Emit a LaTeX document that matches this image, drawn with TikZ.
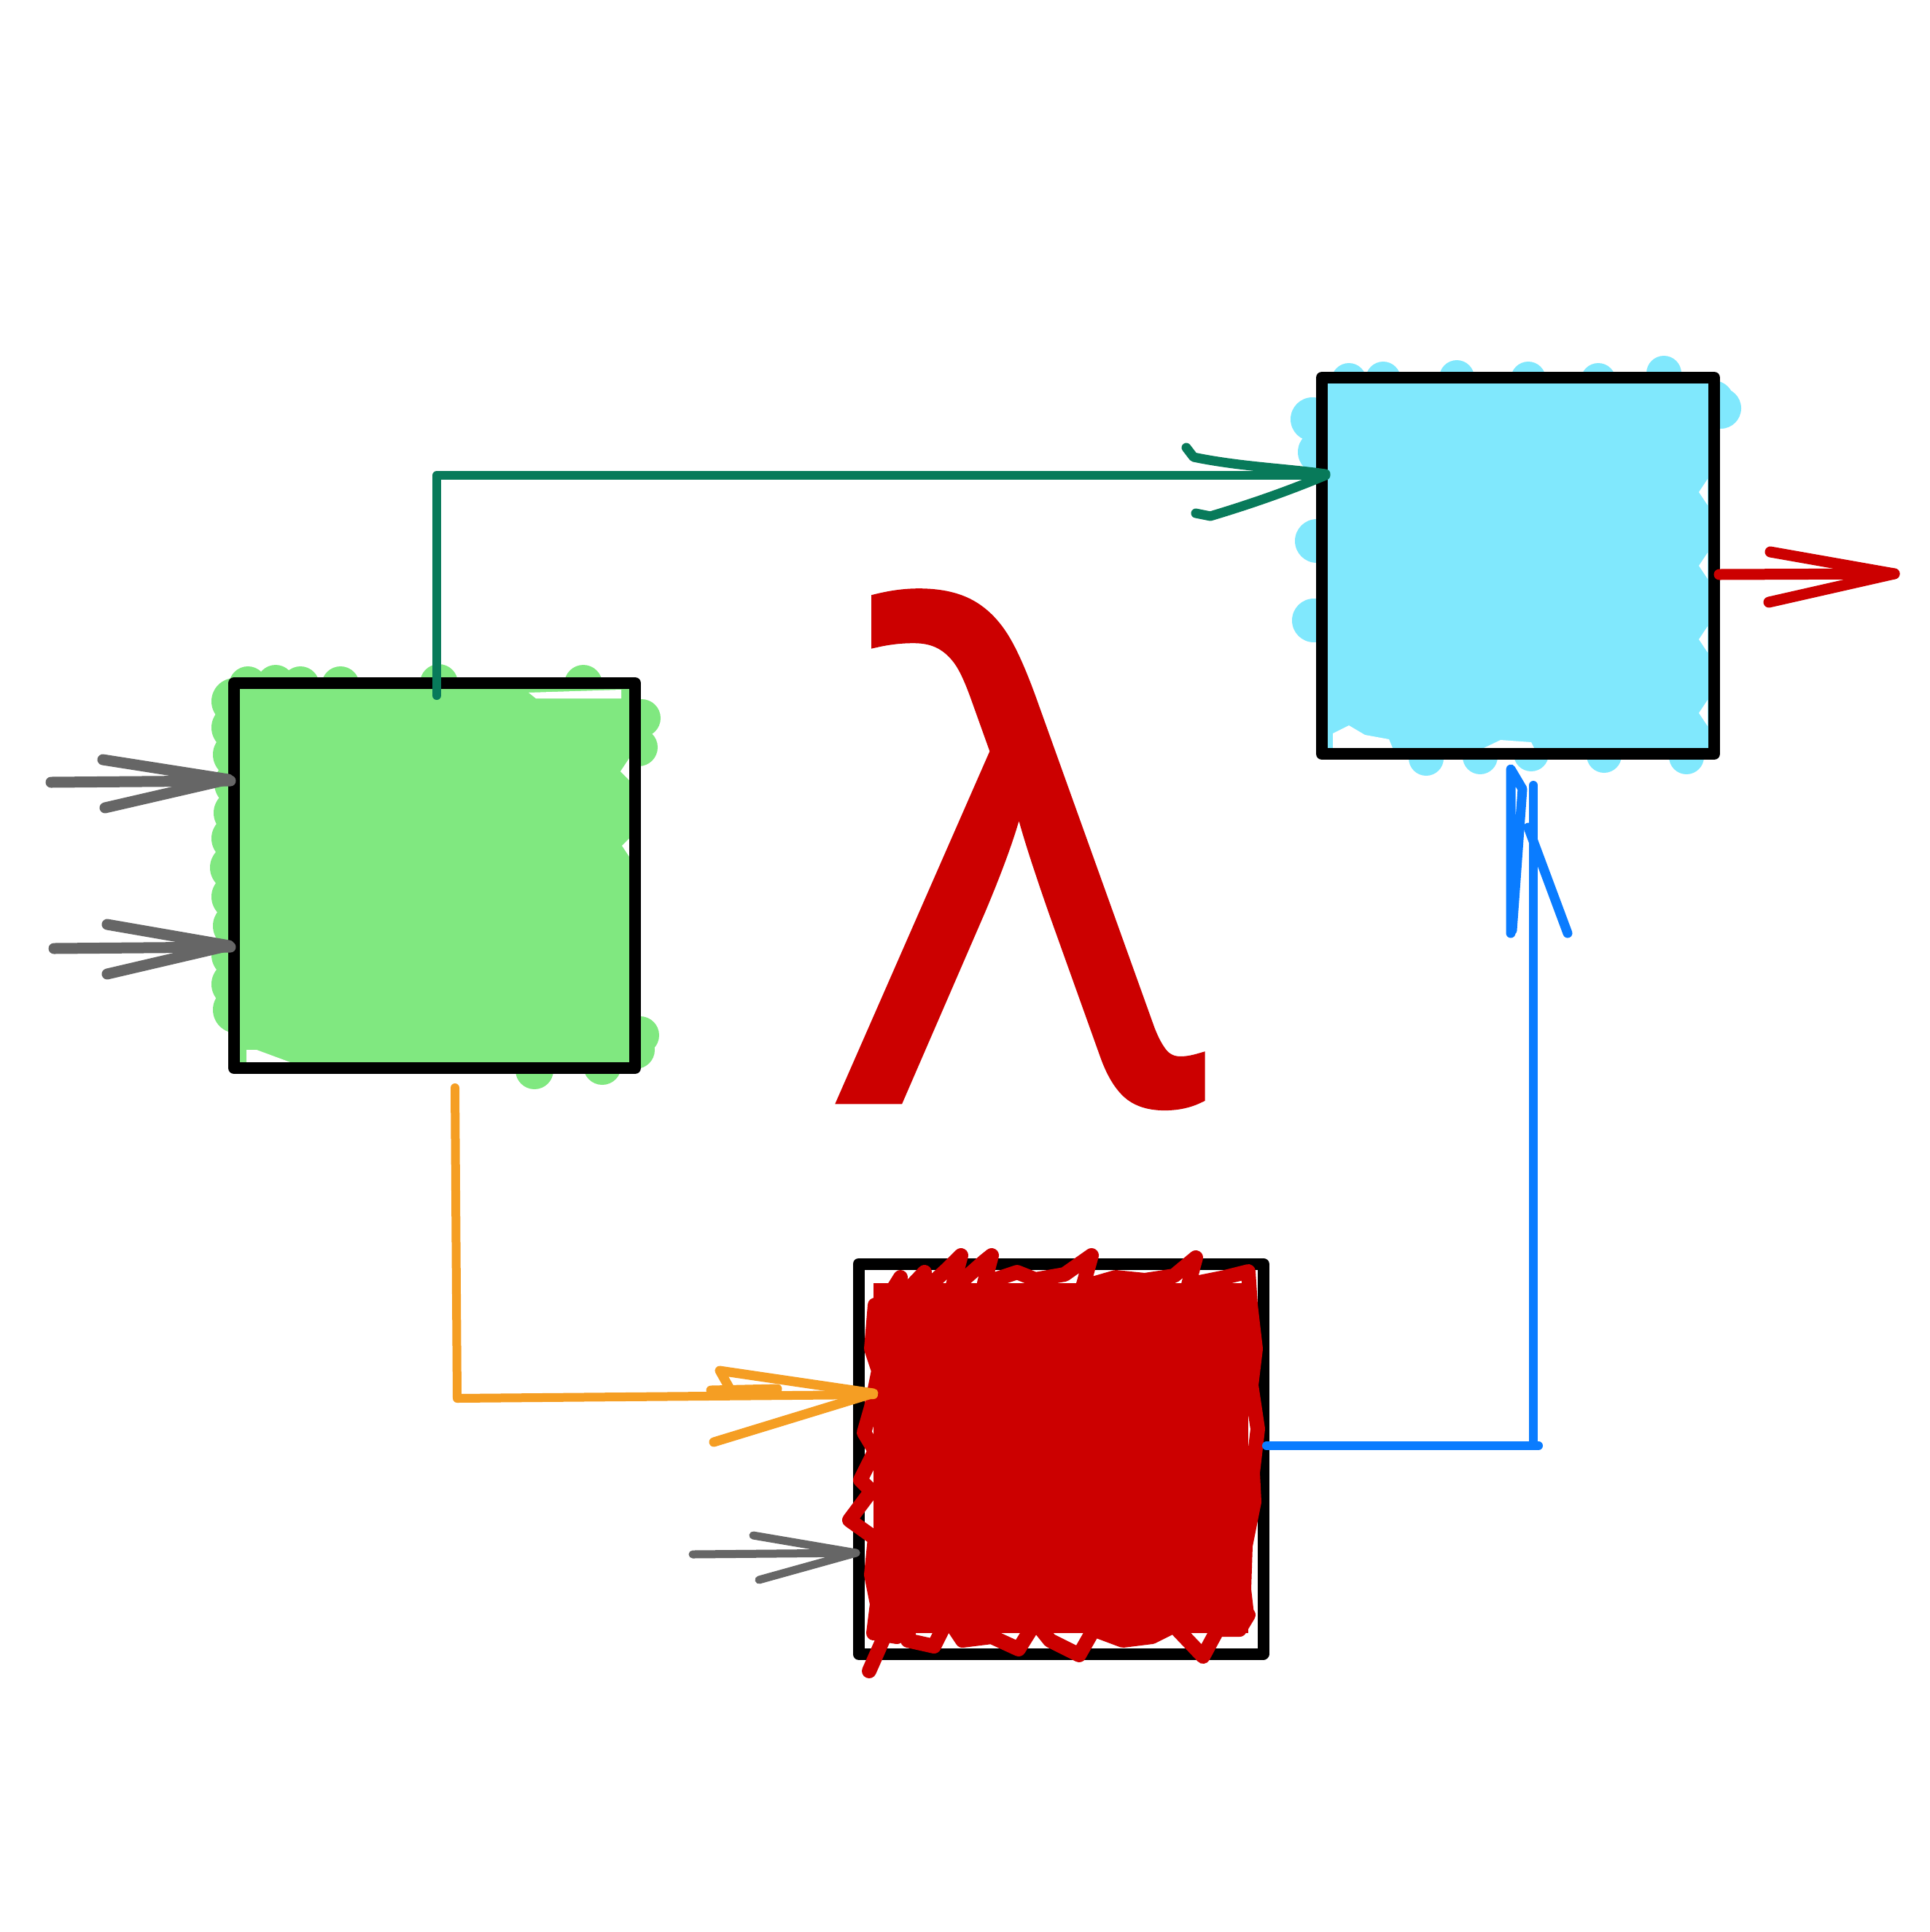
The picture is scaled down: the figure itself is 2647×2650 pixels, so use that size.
\documentclass[tikz,border=0pt]{standalone}
\usepackage{fontspec}
\newfontfamily\lamfont[FakeBold=1.6]{Open Sans}
\definecolor{gfill}{RGB}{128,232,128}
\definecolor{bfill}{RGB}{128,232,253}
\definecolor{rfill}{RGB}{204,0,0}
\definecolor{tealc}{RGB}{8,122,90}
\definecolor{orangec}{RGB}{245,158,35}
\definecolor{bluec}{RGB}{10,124,255}
\definecolor{grayc}{RGB}{102,102,102}
\tikzset{
  x=1pt, y=-1pt,
  boxline/.style={draw=black, line width=16pt, line cap=round, line join=round},
  conn/.style={line width=12pt, line cap=round, line join=round},
  barb/.style={line width=13pt, line cap=round, line join=round},
  graya/.style={draw=grayc, line width=15pt, line cap=round, line join=round},
  rscrib/.style={draw=rfill, line width=20pt, line cap=round, line join=round},
}
\begin{document}
\begin{tikzpicture}
\useasboundingbox (0,0) rectangle (2647,2650);
\fill[white] (0,0) rectangle (2647,2650);

% ---------- green fill ----------
\fill[gfill] (321,937) rectangle (871,1465);
\foreach \p in {(322,962),(322,998),(324,1035),(326,1075),(325,1115),(322,1150),(320,1190),(322,1230),
  (324,1270),(322,1310),(322,1350),(324,1385)}
  \fill[gfill] \p circle (32);
\foreach \p in {(340,940),(378,938),(412,940),(467,940),(602,937),(800,938)}
  \fill[gfill] \p circle (26);
\foreach \p in {(880,985),(876,1025),(878,1420),(872,1440),(826,1462),(733,1468)}
  \fill[gfill] \p circle (26);
\fill[white] (338,1457) -- (338,1440) -- (352,1440) -- (398,1457) -- cycle;
\fill[white] (863,1040) -- (863,1070) -- (851,1058) -- cycle;
\fill[white] (863,1150) -- (863,1175) -- (853,1160) -- cycle;
\fill[white] (725,950) -- (852,946) -- (852,958) -- (735,958) -- cycle;

% ---------- blue fill ----------
\fill[bfill] (1813,518) rectangle (2351,1036);
\foreach \p in {(1897,520),(1998,518),(2096,520),(2192,522),(2282,512),(1850,522)}
  \fill[bfill] \p circle (24);
\foreach \p in {(1800,575),(1806,742),(1802,851),(1810,620)}
  \fill[bfill] \p circle (30);
\foreach \p in {(2350,550),(2360,560)}
  \fill[bfill] \p circle (28);
\foreach \p in {(1956,1040),(2030,1038),(2200,1036),(2313,1038),(2100,1034)}
  \fill[bfill] \p circle (24);
\fill[white] (1828,1026) -- (1828,1006) -- (1850,995) -- (1872,1008) -- (1905,1014) -- (1910,1026) -- cycle;
\fill[white] (2035,1026) -- (2058,1015) -- (2100,1018) -- (2104,1026) -- cycle;
\foreach \yy in {675,776,877,978}
  \fill[white] (2342,\yy-18) -- (2342,\yy+18) -- (2330,\yy) -- cycle;

% ---------- box outlines ----------
\node[boxline, minimum width=550pt, minimum height=528pt, inner sep=0] (gbox) at (596,1201) {};
\node[boxline, minimum width=538pt, minimum height=516pt, inner sep=0] (bbox) at (2082,776) {};
\node[boxline, minimum width=555pt, minimum height=535pt, inner sep=0] (rbox) at (1455,2001) {};

% ---------- red scribble fill ----------
\fill[rfill] (1198,1760) rectangle (1712,2240);
\draw[rscrib] (1205,1800) -- (1235,1752) -- (1225,1790) -- (1268,1745) -- (1262,1775)
  -- (1300,1740) -- (1318,1722) -- (1305,1770) -- (1350,1730) -- (1360,1722)
  -- (1350,1760) -- (1395,1745) -- (1420,1755) -- (1460,1748) -- (1497,1722)
  -- (1485,1765) -- (1530,1752) -- (1570,1756) -- (1610,1750) -- (1640,1725)
  -- (1630,1762) -- (1680,1752) -- (1712,1744) -- (1715,1790);
\draw[rscrib] (1200,1790) -- (1195,1850) -- (1205,1880) -- (1195,1930) -- (1185,1965)
  -- (1200,1990) -- (1180,2030) -- (1195,2045) -- (1165,2085) -- (1200,2110)
  -- (1195,2160) -- (1203,2200) -- (1198,2240);
\draw[rscrib] (1200,2240) -- (1230,2245) -- (1248,2220) -- (1245,2250) -- (1281,2258)
  -- (1300,2220) -- (1320,2250) -- (1360,2245) -- (1397,2262) -- (1420,2225)
  -- (1440,2250) -- (1480,2270) -- (1500,2235) -- (1540,2250) -- (1580,2245)
  -- (1610,2230) -- (1650,2272) -- (1670,2235) -- (1700,2235) -- (1712,2215);
\draw[rscrib] (1715,1790) -- (1722,1850) -- (1716,1900) -- (1725,1960) -- (1718,2020)
  -- (1720,2060) -- (1708,2120) -- (1706,2180) -- (1710,2215);
\draw[rscrib] (1192,2292) -- (1215,2240) -- (1250,2205);

% ---------- lambda ----------
\node[anchor=base, inner sep=0, text=rfill, font={\lamfont\fontsize{904pt}{904pt}\selectfont}] (lam) at (1404,1507) {λ};

% ---------- connectors ----------
\coordinate (gtop) at (599,954);
\coordinate (gbend) at (599,652);
\coordinate (btip) at (1815,652);
\draw[tealc, conn] (gtop) -- (gbend) -- (btip);
\draw[tealc, barb] (1627,614) -- (1637,627) .. controls (1700,640) and (1760,642) .. (1818,650);
\draw[tealc, barb] (1640,704) -- (1660,708) .. controls (1720,690) and (1770,672) .. (1818,652);

\coordinate (ostart) at (624,1492);
\coordinate (obend) at (627,1918);
\coordinate (otip) at (1198,1913);
\draw[orangec, conn] (ostart) -- (obend) -- (otip);
\draw[orangec, barb] (1000,1903) -- (987,1880) -- (1198,1911) -- (979,1978);
\draw[orangec, barb] (975,1907) -- (1066,1905);

\coordinate (rout) at (1737,1983);
\coordinate (bcorner) at (2110,1983);
\coordinate (bend2) at (2103,1980);
\coordinate (bup) at (2103,1077);
\draw[bluec, conn] (rout) -- (bcorner);
\draw[bluec, conn] (bend2) -- (bup);
\draw[bluec, barb] (2072,1280) -- (2072,1055) -- (2088,1082) -- (2074,1276);
\draw[bluec, barb] (2096,1135) -- (2150,1280);

% ---------- gray input arrows ----------
\coordinate (ga1) at (70,1073);
\coordinate (ga1t) at (316,1071);
\draw[graya] (ga1) -- (ga1t);
\draw[graya] (141,1042) -- (313,1069) -- (144,1108);
\coordinate (ga2) at (74,1301);
\coordinate (ga2t) at (316,1299);
\draw[graya] (ga2) -- (ga2t);
\draw[graya] (147,1268) -- (314,1297) -- (147,1336);
\coordinate (ga3) at (950,2132);
\coordinate (ga3t) at (1174,2130);
\draw[graya, line width=11pt] (ga3) -- (ga3t);
\draw[graya, line width=11pt] (1033,2106) -- (1174,2130) -- (1041,2167);

% ---------- red output arrow ----------
\coordinate (rs) at (2358,788);
\coordinate (rt) at (2598,787);
\draw[graya, draw=rfill] (rs) -- (rt);
\draw[graya, draw=rfill] (2428,757) -- (2598,787) -- (2426,826);
\end{tikzpicture}
\end{document}
